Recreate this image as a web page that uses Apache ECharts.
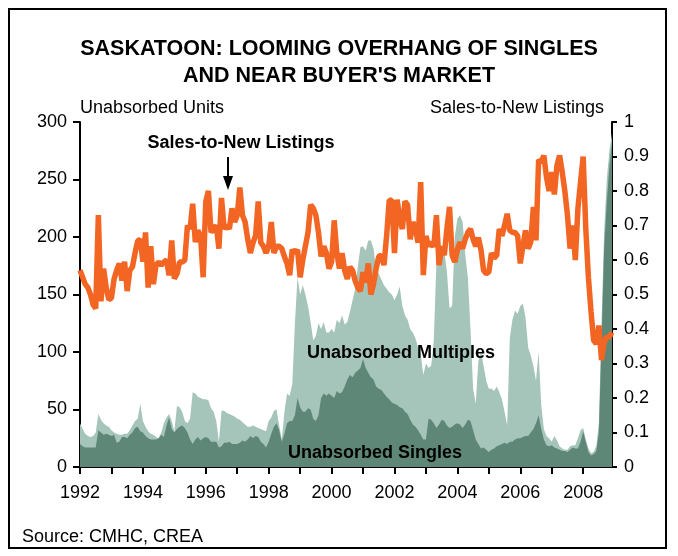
<!DOCTYPE html>
<html>
<head>
<meta charset="utf-8">
<script src="https://cdn.jsdelivr.net/npm/echarts@6/dist/echarts.min.js"></script>
<style>
  html, body { margin: 0; padding: 0; background: #fff; }
  #chart { width: 678px; height: 556px; }
</style>
</head>
<body>
<div id="chart"></div>
<script>
// monthly, Jan 1992 - Dec 2008
var years = [1992, 1993, 1994, 1995, 1996, 1997, 1998, 1999, 2000, 2001, 2002, 2003, 2004, 2005, 2006, 2007, 2008];

// sales-to-new listings ratio (right axis)
var salesToNewListings = [
  0.57, 0.55, 0.53, 0.52, 0.50, 0.47, 0.46, 0.73, 0.48, 0.575, 0.52, 0.485,
  0.49, 0.545, 0.57, 0.59, 0.54, 0.595, 0.51, 0.57, 0.58, 0.62, 0.655, 0.66,
  0.595, 0.68, 0.52, 0.64, 0.53, 0.585, 0.594, 0.585, 0.594, 0.60, 0.556, 0.657,
  0.546, 0.56, 0.594, 0.594, 0.60, 0.70, 0.69, 0.763, 0.652, 0.686, 0.67, 0.55,
  0.77, 0.80, 0.68, 0.69, 0.70, 0.633, 0.78, 0.69, 0.70, 0.69, 0.75, 0.71,
  0.73, 0.81, 0.73, 0.71, 0.66, 0.62, 0.65, 0.67, 0.77, 0.65, 0.64, 0.62,
  0.64, 0.71, 0.62, 0.64, 0.64, 0.633, 0.61, 0.59, 0.556, 0.63, 0.62, 0.63,
  0.55, 0.60, 0.64, 0.68, 0.76, 0.75, 0.73, 0.68, 0.61, 0.64, 0.62, 0.575,
  0.594, 0.715, 0.62, 0.575, 0.62, 0.57, 0.545, 0.58, 0.57, 0.54, 0.52, 0.51,
  0.565, 0.535, 0.59, 0.50, 0.53, 0.575, 0.61, 0.614, 0.585, 0.67, 0.773, 0.773,
  0.62, 0.775, 0.72, 0.69, 0.77, 0.76, 0.66, 0.71, 0.69, 0.65, 0.826, 0.556,
  0.67, 0.64, 0.652, 0.638, 0.73, 0.585, 0.64, 0.614, 0.69, 0.754, 0.614, 0.594,
  0.63, 0.652, 0.633, 0.66, 0.68, 0.69, 0.66, 0.64, 0.665, 0.63, 0.57, 0.56,
  0.565, 0.62, 0.605, 0.614, 0.69, 0.67, 0.70, 0.734, 0.686, 0.68, 0.68, 0.67,
  0.59, 0.64, 0.686, 0.633, 0.652, 0.754, 0.657, 0.89, 0.884, 0.903, 0.84, 0.80,
  0.855, 0.79, 0.874, 0.903, 0.855, 0.80, 0.73, 0.633, 0.70, 0.60, 0.75, 0.826,
  0.90, 0.69, 0.55, 0.45, 0.367, 0.357, 0.41, 0.31, 0.362, 0.377, 0.377, 0.39
];

// unabsorbed singles (left axis)
var unabsorbedSingles = [
  20, 18, 17, 17, 17, 17, 17, 32, 30, 28, 29, 28,
  27, 28, 21, 22, 26, 26, 25, 28, 30, 34, 35, 31,
  30, 27, 25, 24, 24, 24, 25, 28, 26, 36, 43, 33,
  30, 33, 35, 36, 34, 30, 24, 20, 24, 26, 23, 25,
  26, 25, 22, 22, 22, 17, 18, 21, 21, 22, 20, 20,
  20, 21, 23, 22, 24, 27, 25, 27, 26, 22, 20, 17,
  22, 29, 35, 38, 32, 22, 29, 38, 40, 40, 45, 60,
  52, 48, 48, 51, 50, 42, 40, 45, 60, 64, 62, 64,
  62, 60, 66, 64, 65, 70, 76, 80, 78, 82, 84, 86,
  94, 86, 82, 78, 76, 70, 68, 67, 64, 61, 59, 56,
  55, 54, 52, 51, 48, 46, 41, 37, 35, 32, 28, 24,
  24, 42, 41, 38, 34, 37, 41, 40, 36, 34, 35, 37,
  38, 37, 34, 37, 41, 40, 32, 24, 20, 16, 17, 15,
  13, 15, 16, 18, 19, 20, 21, 20, 22, 22, 24, 25,
  25, 26, 27, 27, 30, 33, 38, 45, 33, 24, 19, 18,
  19, 17, 16, 15, 14, 14, 13, 15, 17, 16, 16, 22,
  31, 22, 13, 10, 11, 14, 30, 110, 190, 230, 262, 282
];

// singles + multiples (top of the light area)
var unabsorbedTotal = [
  38, 33, 29, 27, 26, 27, 30, 46, 41, 38, 36, 35,
  32, 30, 29, 28, 28, 29, 29, 32, 36, 40, 42, 55,
  40, 35, 31, 29, 28, 26, 25, 30, 38, 43, 46, 40,
  31, 53, 52, 48, 40, 38, 42, 65, 64, 61, 60, 59,
  59, 58, 51, 48, 40, 22, 49, 49, 47, 46, 45, 44,
  42, 41, 39, 37, 35, 35, 36, 35, 34, 33, 32, 31,
  40, 43, 49, 50, 36, 24, 48, 64, 62, 72, 125, 165,
  150, 158, 150, 140, 126, 110, 114, 125, 120, 126, 117, 117,
  120, 117, 128, 125, 132, 124, 126, 135, 145, 155, 174, 191,
  192, 188, 197, 197, 190, 172, 168, 163, 158, 155, 152, 150,
  145, 150, 157, 140, 132, 128, 120, 117, 112, 104, 98, 80,
  90, 86, 88, 110, 178, 198, 190, 188, 170, 138, 140, 200,
  216, 219, 213, 185, 165, 120, 68, 55, 92, 100, 88, 75,
  68, 68, 66, 70, 65, 59, 48, 36, 112, 128, 136, 133,
  140, 142, 130, 104, 97, 88, 75, 100, 54, 33, 27, 25,
  22, 27, 23, 18, 16, 15, 15, 18, 19, 19, 25, 32,
  34, 24, 16, 12, 13, 18, 39, 126, 205, 250, 275, 290
];

var months = [];
years.forEach(function (y) {
  for (var m = 1; m <= 12; m++) {
    months.push(y + "-" + (m < 10 ? "0" + m : m));
  }
});

var FONT = "Liberation Sans, Arial, sans-serif";
var chart = echarts.init(document.getElementById("chart"));

chart.setOption({
  animation: false,
  textStyle: { fontFamily: FONT, color: "#000" },
  title: {
    text: "SASKATOON: LOOMING OVERHANG OF SINGLES\nAND NEAR BUYER'S MARKET",
    left: "center",
    top: 31,
    textStyle: {
      fontFamily: FONT,
      fontSize: 21.5,
      fontWeight: "bold",
      lineHeight: 27,
      color: "#000"
    }
  },
  grid: {
    left: 80,
    right: 66,
    top: 122,
    bottom: 89,
    outerBoundsMode: "none"
  },
  xAxis: {
    type: "category",
    data: months,
    boundaryGap: false,
    axisLine: { lineStyle: { color: "#000", width: 2 } },
    axisTick: {
      interval: function (i) { return i % 12 === 0; },
      length: 7,
      lineStyle: { color: "#000", width: 2 }
    },
    axisLabel: {
      interval: function (i) { return i % 24 === 0; },
      formatter: function (v) { return v.slice(0, 4); },
      fontSize: 18,
      color: "#000",
      margin: 17
    },
    splitLine: { show: false }
  },
  yAxis: [
    {
      type: "value",
      min: 0,
      max: 300,
      interval: 50,
      name: "Unabsorbed Units",
      nameLocation: "end",
      nameGap: 5,
      nameTextStyle: { fontSize: 18, color: "#000", align: "left", verticalAlign: "bottom" },
      axisLine: { show: true, lineStyle: { color: "#000", width: 2 } },
      axisTick: { show: true, length: 7, lineStyle: { color: "#000", width: 2 } },
      axisLabel: { fontSize: 18, color: "#000", margin: 13 },
      splitLine: { show: false }
    },
    {
      type: "value",
      position: "right",
      min: 0,
      max: 1,
      interval: 0.1,
      name: "Sales-to-New Listings",
      nameLocation: "end",
      nameGap: 5,
      nameTextStyle: { fontSize: 18, color: "#000", align: "right", verticalAlign: "bottom", padding: [0, 8, 0, 0] },
      axisLine: { show: true, lineStyle: { color: "#000", width: 2 } },
      axisTick: { show: true, length: 5, lineStyle: { color: "#000", width: 2 } },
      axisLabel: {
        fontSize: 18,
        color: "#000",
        margin: 12,
        formatter: function (v) { return String(Math.round(v * 10) / 10); }
      },
      splitLine: { show: false }
    }
  ],
  series: [
    {
      name: "Unabsorbed Multiples",
      type: "line",
      yAxisIndex: 0,
      data: unabsorbedTotal,
      symbol: "none",
      lineStyle: { width: 0 },
      areaStyle: { color: "#a5c4ba", opacity: 1 },
      z: 1
    },
    {
      name: "Unabsorbed Singles",
      type: "line",
      yAxisIndex: 0,
      data: unabsorbedSingles,
      symbol: "none",
      lineStyle: { width: 0 },
      areaStyle: { color: "#5f8777", opacity: 1 },
      z: 2
    },
    {
      name: "Sales-to-New Listings",
      type: "line",
      yAxisIndex: 1,
      data: salesToNewListings,
      symbol: "none",
      lineStyle: { color: "#f36523", width: 5.5 },
      z: 3
    }
  ],
  graphic: [
    {
      type: "rect",
      silent: true,
      shape: { x: 9, y: 9, width: 657, height: 539 },
      style: { fill: "none", stroke: "#000", lineWidth: 2 }
    },
    {
      type: "text",
      x: 241,
      y: 143,
      z: 10,
      style: {
        text: "Sales-to-New Listings",
        fontFamily: FONT,
        fontSize: 18,
        fontWeight: "bold",
        fill: "#000",
        align: "center",
        verticalAlign: "middle"
      }
    },
    {
      type: "line",
      z: 10,
      shape: { x1: 228, y1: 157, x2: 228, y2: 180 },
      style: { stroke: "#000", lineWidth: 2 }
    },
    {
      type: "polygon",
      z: 10,
      shape: { points: [[223, 176], [233, 176], [228, 190]] },
      style: { fill: "#000" }
    },
    {
      type: "text",
      x: 401,
      y: 353,
      z: 10,
      style: {
        text: "Unabsorbed Multiples",
        fontFamily: FONT,
        fontSize: 18,
        fontWeight: "bold",
        fill: "#000",
        align: "center",
        verticalAlign: "middle"
      }
    },
    {
      type: "text",
      x: 375,
      y: 453,
      z: 10,
      style: {
        text: "Unabsorbed Singles",
        fontFamily: FONT,
        fontSize: 18,
        fontWeight: "bold",
        fill: "#000",
        align: "center",
        verticalAlign: "middle"
      }
    },
    {
      type: "text",
      x: 22,
      y: 537,
      style: {
        text: "Source: CMHC, CREA",
        fontFamily: FONT,
        fontSize: 18,
        fill: "#000",
        align: "left",
        verticalAlign: "middle"
      }
    }
  ]
});
</script>
</body>
</html>
